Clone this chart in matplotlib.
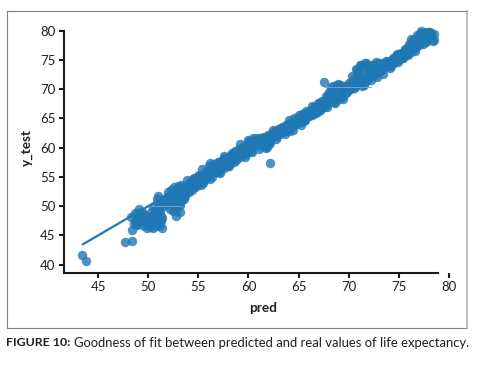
import matplotlib
matplotlib.use("Agg")
import matplotlib.pyplot as plt
from matplotlib.lines import Line2D

plt.rcParams["font.family"] = ["Lato", "DejaVu Sans"]

W, H = 482, 367

# predicted values and real values
pred = [43.4, 43.8, 47.7, 48.4, 48.4, 48.3, 49.1, 48.7, 48.9, 48.6, 49.3, 49.0,
        49.6, 49.9, 50.2, 50.5, 50.7, 50.9, 51.2, 51.4, 49.8, 50.3, 50.6, 51.0, 51.3,
        50.5, 50.9, 51.1, 51.6, 51.9, 51.0, 51.4, 52.2, 52.5, 52.8, 53.2, 52.7, 52.4,
        53.0, 53.4, 53.7, 52.0, 52.3, 52.6, 53.0, 53.3, 53.6, 54.0, 54.3, 54.7, 55.0,
        53.9, 54.2, 54.6, 55.0, 55.3, 55.6, 55.9, 56.2, 56.5, 56.9, 55.4, 55.8, 56.2,
        56.6, 57.0, 57.3, 57.6, 58.0, 58.3, 58.6, 57.2, 57.6, 58.0, 58.4, 58.8, 59.1,
        59.4, 59.7, 60.0, 60.3, 60.6, 59.2, 59.6, 60.0, 60.4, 60.8, 61.2, 61.5, 61.8,
        62.1, 62.4, 62.7, 63.0, 62.1, 61.7, 62.0, 62.4, 62.8, 63.2, 63.6, 64.0, 64.4,
        64.8, 65.2, 63.5, 64.0, 64.5, 65.0, 65.5, 65.8, 66.2, 66.6, 67.0, 66.3, 66.8,
        67.2, 67.5, 67.6, 67.9, 68.2, 68.5, 68.9, 69.3, 67.8, 68.2, 68.6, 69.0, 69.4,
        69.6, 70.1, 70.5, 70.9, 71.3, 70.8, 71.2, 71.4, 71.7, 72.0, 71.5, 71.8, 72.2,
        72.6, 72.8, 73.1, 73.4, 72.9, 73.3, 73.7, 74.1, 74.5, 74.9, 75.1, 75.4, 74.4,
        74.8, 75.2, 75.6, 75.9, 76.1, 76.3, 76.6, 76.9, 76.2, 76.5, 76.8, 77.1, 77.4,
        77.2, 77.6, 77.9, 78.2, 78.5, 77.0, 77.4, 77.8, 78.2, 78.5, 78.4, 78.1,
        48.9, 49.2, 49.5, 48.7, 49.0, 49.4, 49.7, 49.9]
real = [41.6, 40.6, 43.8, 44.0, 45.9, 48.2, 49.5, 47.5, 46.8, 46.9, 48.4, 48.8,
        46.6, 46.3, 46.4, 46.2, 47.2, 46.6, 46.8, 46.3, 47.8, 47.9, 48.6, 49.0, 48.4,
        49.8, 51.2, 50.4, 50.0, 51.1, 51.8, 51.0, 49.5, 49.2, 48.3, 49.0, 50.1, 51.8,
        52.2, 51.1, 51.8, 52.4, 52.8, 53.2, 53.4, 53.7, 52.5, 53.1, 54.1, 53.3, 53.8,
        54.5, 52.9, 54.9, 55.2, 53.6, 54.8, 55.6, 54.6, 56.0, 56.8, 56.4, 55.4, 57.3,
        56.0, 57.6, 56.6, 58.2, 57.2, 58.5, 58.2, 55.6, 58.6, 56.9, 59.1, 57.9, 58.7,
        59.6, 58.4, 60.2, 59.5, 61.0, 60.6, 60.0, 61.4, 59.3, 61.6, 60.3, 61.2, 60.2,
        61.4, 62.5, 61.5, 62.8, 57.4, 59.9, 60.6, 63.0, 62.0, 63.4, 62.4, 64.0, 63.1,
        64.6, 63.9, 62.8, 64.8, 63.8, 65.6, 64.6, 66.0, 65.8, 66.6, 66.2, 67.2, 66.4,
        67.8, 71.2, 67.4, 69.0, 70.3, 68.6, 70.9, 69.2, 67.0, 68.2, 67.6, 70.7, 68.3,
        69.8, 70.9, 70.2, 71.8, 70.6, 73.2, 74.2, 71.2, 74.5, 72.6, 70.8, 73.8, 72.0,
        74.0, 72.0, 73.6, 72.6, 74.4, 73.4, 74.6, 73.9, 75.4, 74.6, 76.1, 75.3, 75.0,
        76.0, 75.4, 76.7, 75.9, 77.2, 78.0, 76.6, 77.6, 78.6, 77.5, 78.7, 78.0, 79.6,
        79.9, 78.4, 79.8, 79.5, 79.4, 77.9, 78.2, 78.8, 79.0, 78.4, 78.2, 79.8,
        48.0, 47.4, 48.6, 48.9, 47.0, 49.0, 47.3, 48.3]

# second batch, the dense part of the band
pred_dense = [50.0, 50.2, 50.4, 50.6, 50.8, 51.0, 51.2, 51.4, 51.6, 51.8,
              50.1, 50.3, 50.5, 50.7, 50.9, 51.1, 51.3, 51.5, 51.7, 51.9,
              52.0, 52.2, 52.4, 52.6, 52.8, 53.0, 53.2, 53.4, 53.6, 53.8,
              52.1, 52.3, 52.5, 52.7, 52.9, 53.1, 53.3, 53.5, 53.7, 53.9,
              54.0, 54.2, 54.4, 54.6, 54.8, 55.0, 55.2, 55.4, 55.6, 55.8,
              54.1, 54.3, 54.5, 54.7, 54.9, 55.1, 55.3, 55.5, 55.7, 55.9,
              56.0, 56.2, 56.4, 56.6, 56.8, 57.0, 57.2, 57.4, 57.6, 57.8,
              56.1, 56.3, 56.5, 56.7, 56.9, 57.1, 57.3, 57.5, 57.7, 57.9,
              58.0, 58.2, 58.4, 58.6, 58.8, 59.0, 59.2, 59.4, 59.6, 59.8,
              58.1, 58.3, 58.5, 58.7, 58.9, 59.1, 59.3, 59.5, 59.7, 59.9,
              60.0, 60.2, 60.4, 60.6, 60.8, 61.0, 61.2, 61.4, 61.6, 61.8,
              60.1, 60.3, 60.5, 60.7, 60.9, 61.1, 61.3, 61.5, 61.7, 61.9,
              62.0, 62.2, 62.4, 62.6, 62.8, 63.0, 63.2, 63.4, 63.6, 63.8,
              62.1, 62.3, 62.5, 62.7, 62.9, 63.1, 63.3, 63.5, 63.7, 63.9,
              64.0, 64.2, 64.4, 64.6, 64.8, 65.0, 65.2, 65.4, 65.6, 65.8,
              64.1, 64.3, 64.5, 64.7, 64.9, 65.1, 65.3, 65.5, 65.7, 65.9,
              66.0, 66.2, 66.4, 66.6, 66.8, 67.0, 67.2, 67.4, 67.6, 67.8,
              66.1, 66.3, 66.5, 66.7, 66.9, 67.1, 67.3, 67.5, 67.7, 67.9,
              68.0, 68.2, 68.4, 68.6, 68.8, 69.0, 69.2, 69.4, 69.6, 69.8,
              68.1, 68.3, 68.5, 68.7, 68.9, 69.1, 69.3, 69.5, 69.7, 69.9,
              70.0, 70.2, 70.4, 70.6, 70.8, 71.0, 71.2, 71.4, 71.6, 71.8,
              70.1, 70.3, 70.5, 70.7, 70.9, 71.1, 71.3, 71.5, 71.7, 71.9,
              72.0, 72.2, 72.4, 72.6, 72.8, 73.0, 73.2, 73.4, 73.6, 73.8,
              72.1, 72.3, 72.5, 72.7, 72.9, 73.1, 73.3, 73.5, 73.7, 73.9,
              74.0, 74.2, 74.4, 74.6, 74.8, 75.0, 75.2, 75.4, 75.6, 75.8,
              74.1, 74.3, 74.5, 74.7, 74.9, 75.1, 75.3, 75.5, 75.7, 75.9,
              76.0, 76.2, 76.4, 76.6, 76.8, 77.0, 77.2, 77.4, 77.6, 77.8,
              76.1, 76.3, 76.5, 76.7, 76.9, 77.1, 77.3, 77.5, 77.7, 77.9]
real_dense = [47.2, 48.0, 47.0, 48.6, 47.8, 47.4, 49.2, 48.0, 50.4, 50.6,
              46.8, 49.0, 47.8, 49.4, 48.4, 49.8, 47.5, 50.5, 51.2, 51.5,
              50.6, 51.4, 50.4, 51.8, 49.6, 51.4, 50.2, 52.6, 51.2, 53.0,
              51.8, 50.8, 52.4, 51.2, 52.8, 50.6, 52.0, 53.2, 52.2, 52.6,
              53.6, 54.2, 52.8, 54.4, 53.4, 54.8, 54.0, 55.2, 54.4, 55.6,
              52.4, 53.6, 54.6, 53.8, 54.2, 55.4, 54.8, 53.9, 55.8, 55.0,
              55.4, 56.4, 55.0, 56.8, 55.8, 57.0, 56.2, 57.4, 56.6, 57.8,
              56.8, 55.6, 57.2, 56.4, 57.4, 55.9, 57.8, 57.0, 58.0, 56.8,
              58.4, 57.4, 58.8, 57.6, 59.2, 58.2, 59.6, 58.6, 60.0, 59.0,
              56.8, 58.8, 58.0, 59.4, 58.6, 59.8, 58.9, 60.2, 59.2, 60.6,
              59.8, 61.0, 60.4, 61.4, 60.8, 59.8, 61.6, 60.6, 61.8, 61.0,
              61.2, 60.0, 61.6, 60.4, 61.0, 61.6, 60.8, 61.8, 60.4, 62.2,
              61.4, 62.4, 61.8, 62.8, 62.4, 63.0, 62.6, 63.4, 63.0, 63.8,
              60.8, 61.8, 62.4, 62.0, 63.2, 62.4, 63.6, 62.8, 63.8, 63.2,
              63.6, 64.4, 63.8, 64.8, 64.2, 65.2, 64.4, 65.6, 64.8, 66.0,
              62.9, 64.2, 65.0, 64.0, 65.0, 64.6, 65.8, 65.0, 66.2, 65.4,
              65.4, 66.4, 65.8, 66.8, 66.2, 67.4, 66.6, 67.8, 67.2, 68.4,
              66.2, 65.6, 67.0, 66.0, 67.6, 66.4, 68.0, 67.0, 68.8, 67.6,
              69.6, 68.2, 70.6, 68.6, 70.8, 68.4, 70.4, 69.0, 70.6, 69.6,
              68.8, 69.8, 67.8, 70.2, 69.4, 70.8, 68.6, 70.4, 69.4, 70.8,
              71.0, 70.0, 71.8, 70.4, 72.8, 71.0, 73.8, 71.4, 74.4, 71.8,
              70.2, 72.2, 71.0, 73.4, 71.6, 74.2, 72.2, 73.0, 71.4, 73.8,
              73.2, 71.6, 74.2, 72.4, 73.6, 73.0, 74.0, 73.4, 74.4, 74.0,
              72.4, 74.2, 73.0, 74.6, 72.8, 74.4, 73.6, 74.0, 74.8, 74.2,
              74.8, 74.0, 75.4, 74.6, 75.8, 75.2, 76.2, 75.6, 76.8, 76.2,
              73.6, 75.0, 74.4, 75.6, 75.0, 76.0, 75.4, 76.4, 76.0, 77.2,
              77.8, 76.4, 78.2, 77.0, 79.2, 77.6, 79.6, 77.8, 79.8, 78.4,
              76.8, 77.6, 78.6, 77.2, 78.4, 79.4, 78.2, 79.0, 78.0, 79.6]

# fit line
line_x = [43.4, 78.5]
line_y = [43.4, 78.5]

# thin pale seams visible on top of the band
seam_x = [[50.4, 53.2], [67.5, 72.2]]
seam_y = [[50.0, 50.0], [70.4, 70.4]]

x_ticks = [45, 50, 55, 60, 65, 70, 75, 80]
y_ticks = [40, 45, 50, 55, 60, 65, 70, 75, 80]

fig = plt.figure(figsize=(W / 100, H / 100), dpi=100, facecolor="white")
ax = fig.add_axes([64 / W, 1 - 272.7 / H, (449 - 64) / W, (272.7 - 30.7) / H])

blue = "#1f77b4"
ax.scatter(pred + pred_dense, real + real_dense, s=46, color=blue, alpha=0.8,
           linewidths=0, clip_on=False)
ax.plot(line_x, line_y, color=blue, lw=1.6, solid_capstyle="butt")
for sx, sy in zip(seam_x, seam_y):
    ax.plot(sx, sy, color="#7fa9cc", lw=0.6)

ax.set_xlim(41.6, 80)
ax.set_ylim(38.63, 80)
ax.set_xticks(x_ticks)
ax.set_yticks(y_ticks)
ax.tick_params(length=3.6, width=1.5, labelsize=9.5, pad=2.5, labelcolor="#231f20", color="#1a1a1a")
for name in ["top", "right"]:
    ax.spines[name].set_visible(False)
for name in ["left", "bottom"]:
    ax.spines[name].set_linewidth(1.5)
    ax.spines[name].set_color("#1a1a1a")
ax.spines["bottom"].set_bounds(41.6, 78.9)
ax.patch.set_alpha(0)

fig.text(27 / W, 1 - 148 / H, "y_test", rotation=90, ha="center", va="center",
         fontsize=9.8, fontweight="bold", color="#231f20")
fig.text(263 / W, 1 - 308 / H, "pred", ha="center", va="center",
         fontsize=9.8, fontweight="bold", color="#231f20")

# frame around the figure
L, R, T, B = 6.5 / W, 466.5 / W, 1 - 10.5 / H, 1 - 328 / H
for xs, ys, col, lw in [([L, R], [T, T], "#808080", 0.8), ([L, L], [T, B], "#808080", 0.8),
                        ([L, R], [B, B], "#808080", 0.8), ([R, R], [T, B], "#b4b4b4", 1.2)]:
    fig.add_artist(Line2D(xs, ys, color=col, lw=lw, transform=fig.transFigure))

fig.text(6.5 / W, 1 - 343 / H, "FIGURE 10:", ha="left", va="center", fontsize=8.9,
         fontweight="bold", color="#231f20")
fig.text(74.5 / W, 1 - 343 / H, "Goodness of fit between predicted and real values of life expectancy.",
         ha="left", va="center", fontsize=9.35, color="#231f20")

fig.savefig("out.png", dpi=100)
